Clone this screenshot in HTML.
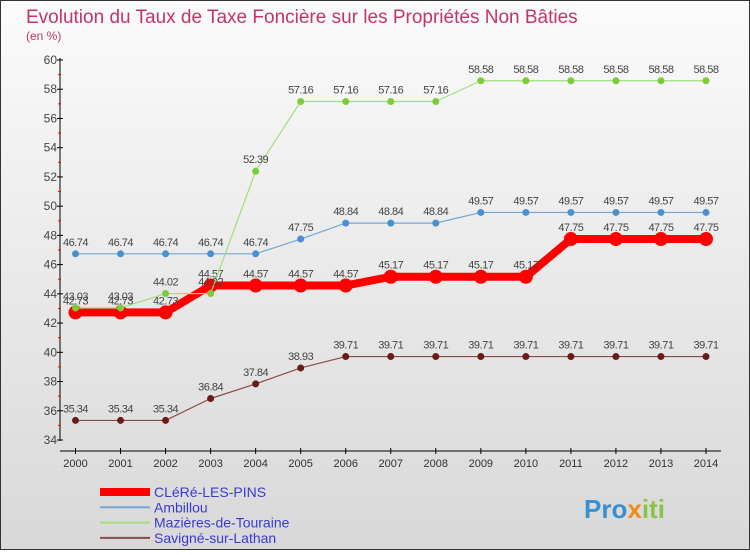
<!DOCTYPE html>
<html><head><meta charset="utf-8"><style>
body{margin:0;width:750px;height:550px;overflow:hidden;font-family:"Liberation Sans",sans-serif}
svg text{font-family:"Liberation Sans",sans-serif}
</style></head><body>
<svg id="c" width="750" height="550">
<defs><linearGradient id="bg" x1="0" y1="0" x2="0" y2="1"><stop offset="0" stop-color="#fbfbfb"/><stop offset="1" stop-color="#d8d8d8"/></linearGradient></defs>
<rect x="0.5" y="0.5" width="749" height="549" fill="url(#bg)" stroke="#333"/>
<text x="26" y="23" font-size="19" fill="#c2356b">Evolution du Taux de Taxe Foncière sur les Propriétés Non Bâties</text>
<text x="26" y="40" font-size="12" fill="#c2356b">(en %)</text>
<g id="axes"></g><g id="series"></g><g id="legend"></g>
<text x="584" y="518" font-size="26" font-weight="bold" fill="#3a8fd0">Pro<tspan fill="#f08c1a">x</tspan><tspan fill="#8bc34a">iti</tspan></text>
</svg>
<script>
const years=[2000,2001,2002,2003,2004,2005,2006,2007,2008,2009,2010,2011,2012,2013,2014];
const cleres=[42.73,42.73,42.73,44.57,44.57,44.57,44.57,45.17,45.17,45.17,45.17,47.75,47.75,47.75,47.75];
const ambillou=[46.74,46.74,46.74,46.74,46.74,47.75,48.84,48.84,48.84,49.57,49.57,49.57,49.57,49.57,49.57];
const mazieres=[43.03,43.03,44.02,44.02,52.39,57.16,57.16,57.16,57.16,58.58,58.58,58.58,58.58,58.58,58.58];
const savigne=[35.34,35.34,35.34,36.84,37.84,38.93,39.71,39.71,39.71,39.71,39.71,39.71,39.71,39.71,39.71];
const yTicks=[34,36,38,40,42,44,46,48,50,52,54,56,58,60];
const names=["CLéRé-LES-PINS","Ambillou","Mazières-de-Touraine","Savigné-sur-Lathan"];
const NS="http://www.w3.org/2000/svg";
const xs=i=>75.5+i*(706-75.5)/(years.length-1);
const ys=v=>440-(v-34)*(380/26);
function mk(p,tag,at){const e=document.createElementNS(NS,tag);for(const k in at)e.setAttribute(k,at[k]);p.appendChild(e);return e;}
const ax=document.getElementById('axes');
let e=mk(ax,'line',{x1:60,y1:58,x2:60,y2:441,stroke:'#000'});

e=mk(ax,'line',{x1:60,y1:451,x2:721,y2:451,stroke:'#000'});

yTicks.forEach((t,i)=>{const y=ys(t);
 mk(ax,'line',{x1:57,y1:y,x2:63,y2:y,stroke:'#000'});
 if(i<yTicks.length-1)mk(ax,'line',{x1:58,y1:ys(t+1),x2:61,y2:ys(t+1),stroke:'#f00'});
 const tx=mk(ax,'text',{x:57,y:y+4,'text-anchor':'end','font-size':12,fill:'#444'});tx.textContent=t;
 });
years.forEach((yr,i)=>{const x=xs(i);
 mk(ax,'line',{x1:x,y1:448,x2:x,y2:454,stroke:'#000'});
 const tx=mk(ax,'text',{x:x,y:467,'text-anchor':'middle','font-size':11,fill:'#333'});tx.textContent=yr;
 });
const S=document.getElementById('series');
function series(data,col,w,r,pc,name){
 const g=mk(S,'g',{});
 mk(g,'polyline',{points:data.map((v,i)=>xs(i)+','+ys(v)).join(' '),fill:'none',stroke:col,'stroke-width':w,'stroke-linejoin':'round'});
 data.forEach((v,i)=>{const c=mk(g,'circle',{cx:xs(i),cy:ys(v),r:r,fill:pc});
  
  const t=mk(g,'text',{x:xs(i),y:ys(v)-8,'text-anchor':'middle','font-size':11,fill:'#444','letter-spacing':'-0.5'});t.textContent=v.toFixed(2);
  });
}
series(savigne,'#8a4a4a',1.2,3.5,'#6b1a1a','savigne-series');
series(ambillou,'#6fa8d8',1.2,3.5,'#4a90d0','ambillou-series');
series(cleres,'#ff0000',8,7,'#ff0000','cleres-series');
series(mazieres,'#9fe07a',1.2,3.5,'#7ccc3a','mazieres-series');
const L=document.getElementById('legend');
const lc=['#ff0000','#6fa8d8','#9fe07a','#8a4a4a'],lw=[8,2,2,2];
names.forEach((n,i)=>{const y=492+i*15.3;
 const g=mk(L,'g',{});
 mk(g,'line',{x1:100,y1:y,x2:150,y2:y,stroke:lc[i],'stroke-width':lw[i]});
 const t=mk(g,'text',{x:154,y:y+5,'font-size':14,fill:'#3a3ad0'});t.textContent=n;});
</script>
</body></html>
